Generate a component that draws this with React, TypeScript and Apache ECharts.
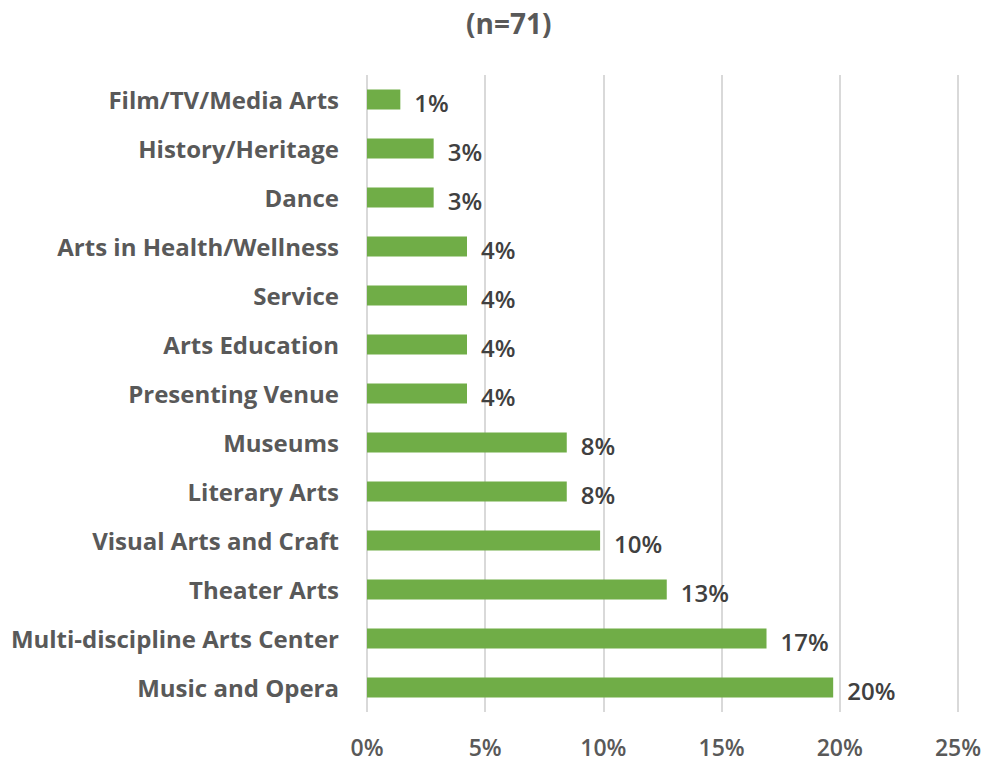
import React, { useEffect, useRef } from "react";
import * as echarts from "echarts";

const categories = [
  "Film/TV/Media Arts",
  "History/Heritage",
  "Dance",
  "Arts in Health/Wellness",
  "Service",
  "Arts Education",
  "Presenting Venue",
  "Museums",
  "Literary Arts",
  "Visual Arts and Craft",
  "Theater Arts",
  "Multi-discipline Arts Center",
  "Music and Opera",
];
const values = [1.41, 2.82, 2.82, 4.23, 4.23, 4.23, 4.23, 8.45, 8.45, 9.86, 12.68, 16.9, 19.72];
const xTicks = [0, 5, 10, 15, 20, 25];
const titleText = "(n=71)";

const FONT = "'Open Sans', 'Noto Sans', sans-serif";

export default function App() {
  const ref = useRef<HTMLDivElement>(null);
  useEffect(() => {
    if (!ref.current) return;
    const chart = echarts.init(ref.current, undefined, { renderer: "svg" });
    chart.setOption({
      animation: false,
      backgroundColor: "#ffffff",
      title: {
        text: titleText,
        left: 461,
        top: 4,
        textStyle: { fontFamily: FONT, fontSize: 28, fontWeight: 700, color: "#595959" },
      },
      grid: { left: 367, right: 29, top: 75, bottom: 51, containLabel: false },
      xAxis: {
        type: "value",
        min: xTicks[0],
        max: xTicks[xTicks.length - 1],
        interval: 5,
        axisLine: { show: false },
        axisTick: { show: false },
        splitLine: { show: true, lineStyle: { color: "#d9d9d9", width: 2 } },
        axisLabel: {
          formatter: (v: number) => `${v}%`,
          fontFamily: FONT,
          fontSize: 23,
          fontWeight: 600,
          color: "#595959",
          margin: 23,
          lineHeight: 24,
        },
      },
      yAxis: {
        type: "category",
        data: categories,
        inverse: true,
        axisLine: { show: false },
        axisTick: { show: false },
        axisLabel: {
          fontFamily: FONT,
          fontSize: 24,
          fontWeight: 700,
          color: "#595959",
          margin: 28,
        },
      },
      series: [
        {
          type: "bar",
          data: values,
          barWidth: 20,
          itemStyle: { color: "#70ad47" },
          label: {
            show: true,
            position: "right",
            distance: 14,
            offset: [0, 3],
            formatter: (p: any) => `${Math.round(p.value)}%`,
            fontFamily: FONT,
            fontSize: 24,
            fontWeight: 600,
            color: "#404040",
          },
        },
      ],
    });
    return () => chart.dispose();
  }, []);
  return <div ref={ref} style={{ width: 987, height: 763, position: "absolute", left: 0, top: 0 }} />;
}
